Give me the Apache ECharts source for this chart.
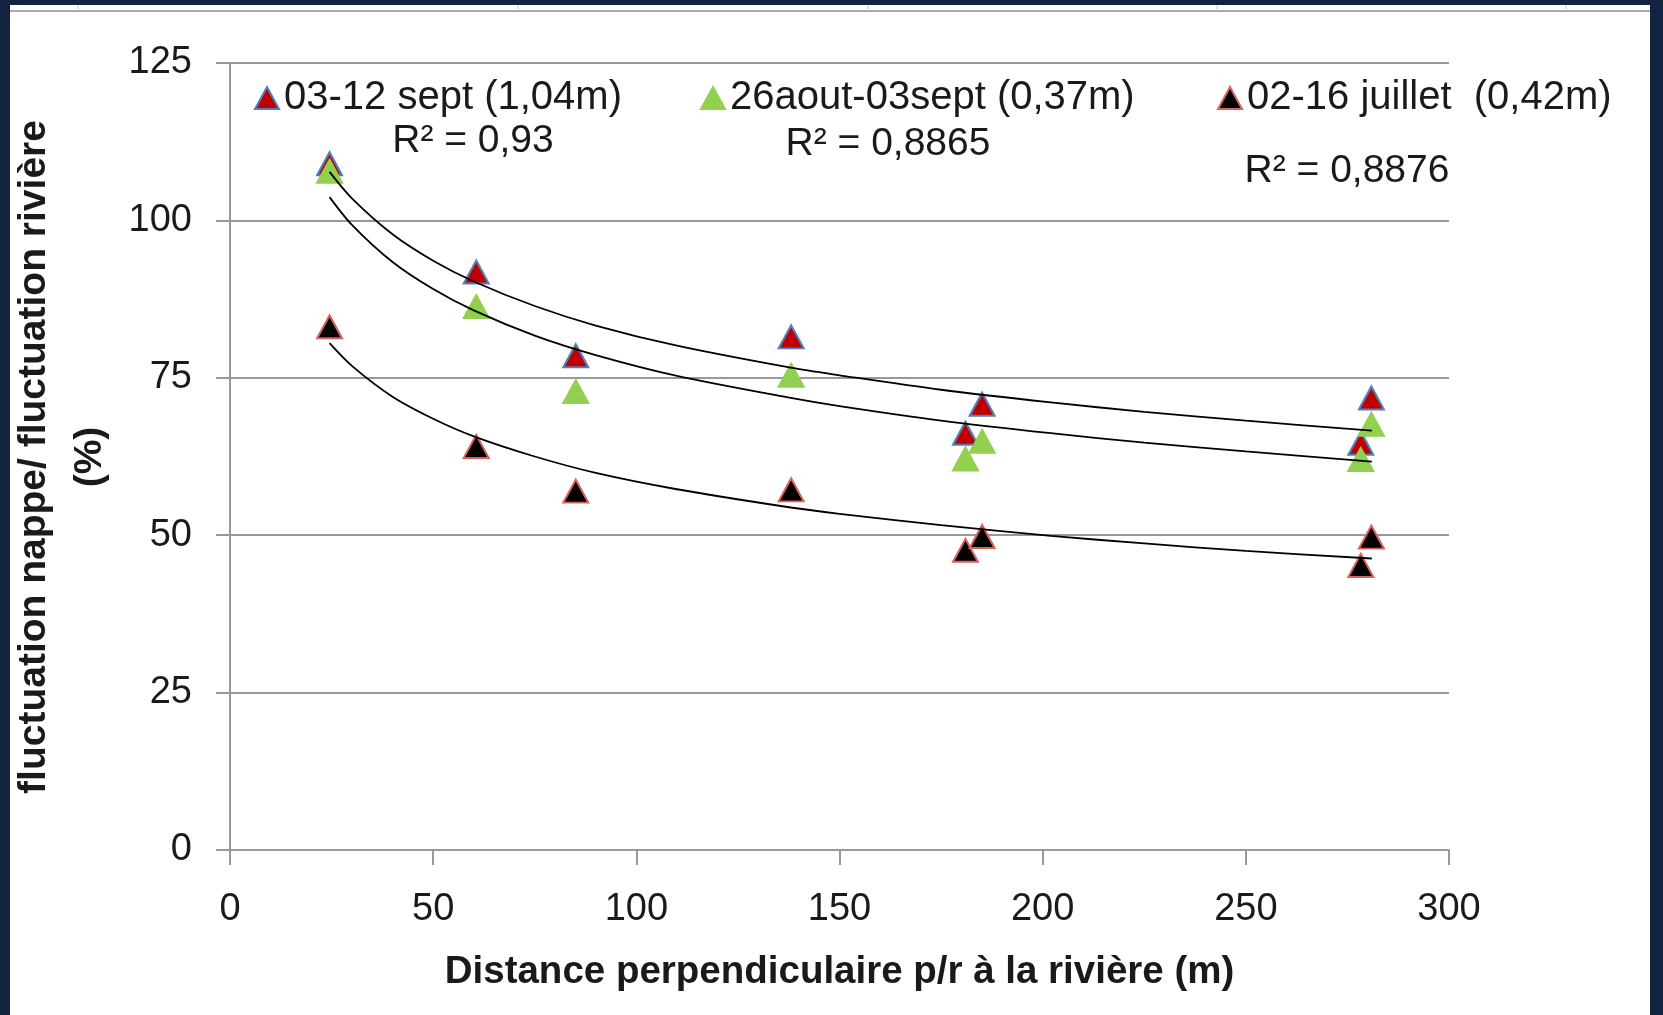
<!DOCTYPE html>
<html>
<head>
<meta charset="utf-8">
<title>Fluctuation nappe / fluctuation rivière</title>
<script src="https://cdn.jsdelivr.net/npm/echarts@6.0.0/dist/echarts.min.js"></script>
<style>
  html, body { margin: 0; padding: 0; background: #fff; }
  #main { width: 1663px; height: 1015px; }
</style>
</head>
<body>
<div id="main"></div>
<script>
// distance des piezometres a la riviere (m)
const distances = [24.5, 60.6, 85.1, 138.1, 181, 185.1, 278.3, 280.9]

// fluctuation nappe / fluctuation riviere (%)
const sept0312 = [109.0, 91.8, 78.5, 81.5, 66.2, 70.8, 64.6, 71.8]
const aout26 = [107.8, 86.3, 72.8, 75.4, 62.1, 64.9, 62.0, 67.6]
const juil0216 = [83.1, 64.1, 57.0, 57.2, 47.6, 49.8, 45.2, 49.7]

// courbes de tendance
const trendX = [24.5, 30, 40, 50, 60, 75, 90, 110, 138, 150, 175, 202, 225, 250, 281]
const trendSept = [107.7, 103.5, 97.8, 93.6, 90.3, 86.4, 83.3, 80.1, 76.6, 75.4, 73.1, 71.1, 69.6, 68.2, 66.6]
const trendAout = [103.7, 99.3, 93.4, 89.1, 85.7, 81.7, 78.6, 75.3, 71.8, 70.5, 68.2, 66.2, 64.7, 63.3, 61.7]
const trendJuil = [80.5, 76.9, 72.0, 68.5, 65.7, 62.5, 59.9, 57.3, 54.4, 53.4, 51.6, 49.9, 48.7, 47.5, 46.3]

const seriesNames = ['03-12 sept (1,04m)', '26aout-03sept (0,37m)', '02-16 juillet  (0,42m)']
const r2Labels = ['R² = 0,93', 'R² = 0,8865', 'R² = 0,8876']

const font = 'Liberation Sans, Arial, sans-serif'
const navy = '#12233f'
const ink = '#1a1a1a'

function pairs(xs, ys) {
  return xs.map((x, i) => [x, ys[i]])
}

function pointSeries(name, values, fill, border) {
  return {
    name: name,
    type: 'scatter',
    symbol: 'triangle',
    symbolSize: [25, 23],
    data: pairs(distances, values),
    itemStyle: { color: fill, borderColor: border, borderWidth: 2, opacity: 1 },
    z: 3
  }
}

function trendSeries(values) {
  return {
    type: 'line',
    data: pairs(trendX, values),
    showSymbol: false,
    smooth: 0.3,
    silent: true,
    lineStyle: { color: '#000', width: 1.8 },
    z: 4
  }
}

function legendAt(name, left) {
  return {
    data: [name],
    left: left,
    top: 78,
    padding: 0,
    icon: 'triangle',
    itemWidth: 24,
    itemHeight: 22,
    selectedMode: false,
    textStyle: { fontFamily: font, fontSize: 40, color: ink }
  }
}

function r2Text(label, x, y) {
  return {
    type: 'text',
    x: x,
    y: y,
    style: { text: label, fontFamily: font, fontSize: 39, fill: ink, align: 'center', verticalAlign: 'middle' }
  }
}

const chart = echarts.init(document.getElementById('main'))

const option = {
  backgroundColor: '#fff',
  animation: false,
  grid: { left: 230, top: 63, width: 1219, height: 787 },
  legend: [
    legendAt(seriesNames[0], 254),
    legendAt(seriesNames[1], 700),
    legendAt(seriesNames[2], 1217)
  ],
  xAxis: {
    type: 'value',
    min: 0,
    max: 300,
    interval: 50,
    name: 'Distance perpendiculaire p/r à la rivière (m)',
    nameLocation: 'middle',
    nameGap: 103,
    nameTextStyle: { fontFamily: font, fontSize: 38.5, fontWeight: 'bold', color: ink },
    axisLine: { lineStyle: { color: '#999', width: 2 } },
    axisTick: { show: true, length: 15, lineStyle: { color: '#999', width: 2 } },
    axisLabel: { margin: 41, fontFamily: font, fontSize: 38, color: ink },
    splitLine: { show: false }
  },
  yAxis: {
    type: 'value',
    min: 0,
    max: 125,
    interval: 25,
    axisLine: { show: true, lineStyle: { color: '#999', width: 2 } },
    axisTick: { show: true, length: 14, lineStyle: { color: '#999', width: 2 } },
    axisLabel: { margin: 38, fontFamily: font, fontSize: 38, color: ink },
    splitLine: { lineStyle: { color: '#999', width: 2 } }
  },
  series: [
    pointSeries(seriesNames[0], sept0312, '#c00000', '#4f81bd'),
    pointSeries(seriesNames[1], aout26, '#92d050', '#92d050'),
    pointSeries(seriesNames[2], juil0216, '#000000', '#d9625f'),
    trendSeries(trendSept),
    trendSeries(trendAout),
    trendSeries(trendJuil)
  ],
  graphic: [
    // cadre bleu nuit autour de la capture
    { type: 'rect', left: 0, top: 0, shape: { width: 1663, height: 5 }, style: { fill: navy } },
    { type: 'rect', left: 0, top: 0, shape: { width: 10, height: 1015 }, style: { fill: navy } },
    { type: 'rect', left: 1650, top: 0, shape: { width: 13, height: 1015 }, style: { fill: navy } },
    { type: 'line', shape: { x1: 10, y1: 11, x2: 1650, y2: 11 }, style: { stroke: '#aaa', lineWidth: 2 } },
    { type: 'line', shape: { x1: 78, y1: 5, x2: 78, y2: 11 }, style: { stroke: '#ccc', lineWidth: 1 } },
    { type: 'line', shape: { x1: 518, y1: 5, x2: 518, y2: 11 }, style: { stroke: '#ccc', lineWidth: 1 } },
    { type: 'line', shape: { x1: 868, y1: 5, x2: 868, y2: 11 }, style: { stroke: '#ccc', lineWidth: 1 } },
    { type: 'line', shape: { x1: 1217, y1: 5, x2: 1217, y2: 11 }, style: { stroke: '#ccc', lineWidth: 1 } },
    { type: 'line', shape: { x1: 1566, y1: 5, x2: 1566, y2: 11 }, style: { stroke: '#ccc', lineWidth: 1 } },
    // titre de l'axe vertical
    {
      type: 'text',
      x: 62,
      y: 457,
      rotation: Math.PI / 2,
      style: {
        text: 'fluctuation nappe/ fluctuation rivière\n(%)',
        fontFamily: font,
        fontSize: 39,
        fontWeight: 'bold',
        lineHeight: 56,
        fill: ink,
        align: 'center',
        verticalAlign: 'middle'
      }
    },
    // coefficients R2 des courbes de tendance
    r2Text(r2Labels[0], 473, 141),
    r2Text(r2Labels[1], 888, 144),
    r2Text(r2Labels[2], 1347, 171)
  ]
}

chart.setOption(option)
</script>
</body>
</html>
